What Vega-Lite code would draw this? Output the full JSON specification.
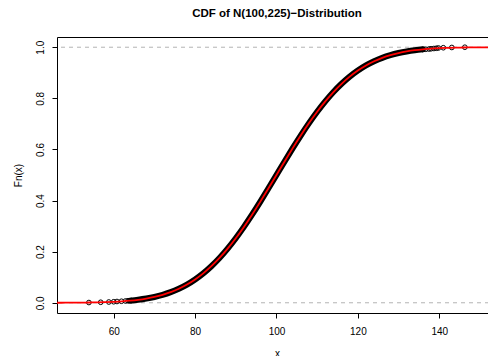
{
  "$schema": "https://vega.github.io/schema/vega-lite/v6.json",
  "autosize": {"type": "none"},
  "width": 440,
  "height": 276,
  "padding": {"left": 57, "top": 37, "right": 0, "bottom": 43},
  "background": "white",
  "title": {"text": "CDF of N(100,225)\u2212Distribution", "font": "Liberation Sans", "fontSize": 11.5, "fontWeight": "bold", "color": "black", "anchor": "middle", "offset": 18},
  "config": {
    "view": {"stroke": "black", "strokeWidth": 1},
    "axis": {"labelFont": "Liberation Sans", "titleFont": "Liberation Sans", "labelFontSize": 10, "titleFontSize": 10, "labelColor": "black", "titleColor": "black", "titleFontWeight": "normal", "domain": false, "grid": false, "tickColor": "black", "tickSize": 5}
  },
  "datasets": {
    "cdf": [
      {"x": 46, "p": 0.00016}, {"x": 48, "p": 0.00026}, {"x": 50, "p": 0.00043}, {"x": 52, "p": 0.00069},
      {"x": 54, "p": 0.00108}, {"x": 56, "p": 0.00168}, {"x": 58, "p": 0.00256}, {"x": 60, "p": 0.00383},
      {"x": 62, "p": 0.00565}, {"x": 64, "p": 0.0082}, {"x": 66, "p": 0.0117}, {"x": 68, "p": 0.0165},
      {"x": 70, "p": 0.0228}, {"x": 72, "p": 0.031}, {"x": 74, "p": 0.0415}, {"x": 76, "p": 0.0548},
      {"x": 78, "p": 0.0712}, {"x": 80, "p": 0.0912}, {"x": 82, "p": 0.1151}, {"x": 84, "p": 0.1431},
      {"x": 86, "p": 0.1753}, {"x": 88, "p": 0.2119}, {"x": 90, "p": 0.2525}, {"x": 92, "p": 0.2969},
      {"x": 94, "p": 0.3446}, {"x": 96, "p": 0.3949}, {"x": 98, "p": 0.447}, {"x": 100, "p": 0.5},
      {"x": 102, "p": 0.553}, {"x": 104, "p": 0.6051}, {"x": 106, "p": 0.6554}, {"x": 108, "p": 0.7031},
      {"x": 110, "p": 0.7475}, {"x": 112, "p": 0.7881}, {"x": 114, "p": 0.8247}, {"x": 116, "p": 0.8569},
      {"x": 118, "p": 0.8849}, {"x": 120, "p": 0.9088}, {"x": 122, "p": 0.9288}, {"x": 124, "p": 0.9452},
      {"x": 126, "p": 0.9585}, {"x": 128, "p": 0.969}, {"x": 130, "p": 0.9772}, {"x": 132, "p": 0.9835},
      {"x": 134, "p": 0.9883}, {"x": 136, "p": 0.9918}, {"x": 138, "p": 0.99435}, {"x": 140, "p": 0.99617},
      {"x": 142, "p": 0.99744}, {"x": 144, "p": 0.99832}, {"x": 146, "p": 0.99892}, {"x": 148, "p": 0.99931},
      {"x": 150, "p": 0.99957}, {"x": 152, "p": 0.99974}, {"x": 154, "p": 0.99985}
    ],
    "pts": [
      {"x": 53.9, "p": 0.001}, {"x": 56.8, "p": 0.002}, {"x": 58.8, "p": 0.003}, {"x": 60.0, "p": 0.004},
      {"x": 60.8, "p": 0.005}, {"x": 61.9, "p": 0.006}, {"x": 62.9, "p": 0.007}, {"x": 63.5, "p": 0.008},
      {"x": 64.3, "p": 0.009}, {"x": 135.9, "p": 0.991}, {"x": 136.7, "p": 0.992}, {"x": 137.5, "p": 0.993}, {"x": 138.0, "p": 0.994},
      {"x": 138.7, "p": 0.995}, {"x": 139.3, "p": 0.996}, {"x": 139.8, "p": 0.997}, {"x": 141.0, "p": 0.998},
      {"x": 143.1, "p": 0.999}, {"x": 146.3, "p": 1.0}
    ],
    "ref": [{"h": 0}, {"h": 1}]
  },
  "layer": [
    {
      "data": {"name": "ref"},
      "mark": {"type": "rule", "color": "#b3b3b3", "strokeDash": [4, 4], "strokeWidth": 1},
      "encoding": {"y": {"field": "h", "type": "quantitative", "scale": {"domain": [-0.04, 1.04], "nice": false, "zero": false}}}
    },
    {
      "data": {"name": "cdf"},
      "transform": [{"filter": "datum.x >= 64 && datum.x <= 136"}],
      "mark": {"type": "line", "color": "black", "strokeWidth": 6, "interpolate": "monotone", "strokeCap": "round"},
      "encoding": {
        "x": {"field": "x", "type": "quantitative"},
        "y": {"field": "p", "type": "quantitative"}
      }
    },
    {
      "data": {"name": "pts"},
      "mark": {"type": "point", "shape": "circle", "filled": false, "stroke": "black", "strokeWidth": 1, "size": 22, "opacity": 1},
      "encoding": {
        "x": {"field": "x", "type": "quantitative"},
        "y": {"field": "p", "type": "quantitative"}
      }
    },
    {
      "data": {"name": "cdf"},
      "mark": {"type": "line", "color": "#ff0000", "strokeWidth": 1.8, "interpolate": "monotone", "clip": true},
      "encoding": {
        "x": {"field": "x", "type": "quantitative", "scale": {"domain": [46.06, 154.2], "nice": false, "zero": false},
          "axis": {"values": [60, 80, 100, 120, 140], "title": "x", "labelPadding": 8, "titlePadding": 12, "format": "d"}},
        "y": {"field": "p", "type": "quantitative", "scale": {"domain": [-0.04, 1.04], "nice": false, "zero": false},
          "axis": {"values": [0, 0.2, 0.4, 0.6, 0.8, 1.0], "format": ".1f", "title": "Fn(x)", "labelAngle": -90, "labelAlign": "center", "labelBaseline": "bottom", "labelPadding": 7, "titlePadding": 12}}
      }
    }
  ]
}
